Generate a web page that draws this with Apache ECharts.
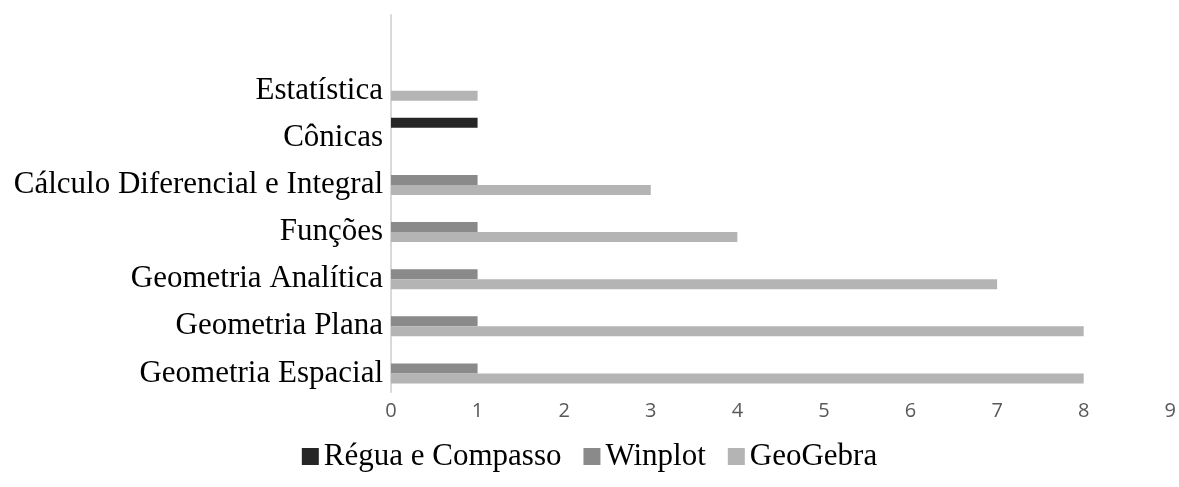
<!DOCTYPE html>
<html>
<head>
<meta charset="utf-8">
<script src="https://cdn.jsdelivr.net/npm/echarts@6/dist/echarts.min.js"></script>
<style>
  html, body { margin: 0; padding: 0; background: #fff; }
  #chart { width: 1179px; height: 487px; }
</style>
</head>
<body>
<div id="chart"></div>
<script>
// categories, bottom to top (last one is the empty slot at the top)
var categories = ['Geometria Espacial', 'Geometria Plana', 'Geometria Analítica', 'Funções',
    'Cálculo Diferencial e Integral', 'Cônicas', 'Estatística', ''];
var seriesNames = ['Régua e Compasso', 'Winplot', 'GeoGebra'];
var reguaValues = [0, 0, 0, 0, 0, 1, 0, '-'];
var winplotValues = [1, 1, 1, 1, 1, 0, 0, '-'];
var geogebraValues = [8, 8, 7, 4, 3, 0, 1, '-'];
var xTicks = [0, 1, 2, 3, 4, 5, 6, 7, 8, 9];

var colors = ['#262626', '#8a8a8a', '#b4b4b4'];
var serifFont = '"Liberation Serif", "DejaVu Serif", serif';

var option = {
    animation: false,
    color: colors,
    grid: {
        left: 391,
        right: 6,
        top: 15,
        bottom: 95,
        containLabel: false
    },
    legend: {
        data: seriesNames,
        bottom: 10,
        left: 'center',
        itemWidth: 17,
        itemHeight: 17,
        itemGap: 22,
        icon: 'rect',
        textStyle: {
            fontFamily: serifFont,
            fontSize: 31,
            color: '#000'
        }
    },
    xAxis: {
        type: 'value',
        min: xTicks[0],
        max: xTicks[xTicks.length - 1],
        interval: 1,
        axisLine: { show: false },
        axisTick: { show: false },
        splitLine: { show: false },
        axisLabel: {
            margin: 9,
            fontFamily: '"Open Sans", sans-serif',
            fontSize: 20,
            color: '#595959'
        }
    },
    yAxis: {
        type: 'category',
        data: categories,
        axisLine: { show: true, lineStyle: { color: '#d9d9d9', width: 2 } },
        axisTick: { show: false },
        splitLine: { show: false },
        axisLabel: {
            margin: 8,
            formatter: '{c|{value}}',
            rich: {
                c: {
                    padding: [10, 0, 0, 0],
                    fontFamily: serifFont,
                    fontSize: 31,
                    color: '#000'
                }
            }
        }
    },
    series: [
        { name: seriesNames[0], type: 'bar', data: reguaValues, barWidth: 10, barGap: '0%' },
        { name: seriesNames[1], type: 'bar', data: winplotValues, barWidth: 10, barGap: '0%' },
        { name: seriesNames[2], type: 'bar', data: geogebraValues, barWidth: 10, barGap: '0%' }
    ]
};

var myChart = echarts.init(document.getElementById('chart'));
myChart.setOption(option);
</script>
</body>
</html>
